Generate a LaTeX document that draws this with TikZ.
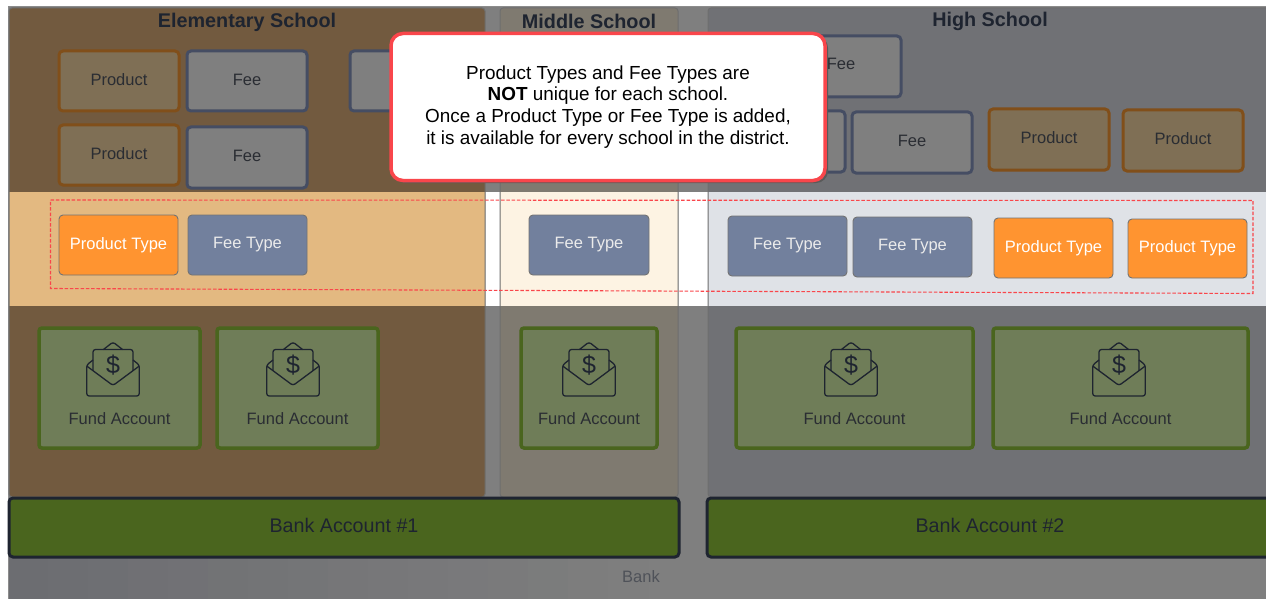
\documentclass[tikz,border=0pt]{standalone}
\usepackage{fontspec}
\setmainfont{Liberation Sans}
\usetikzlibrary{calc}
\definecolor{dimgray}{HTML}{7F7F7F}
\definecolor{elemdim}{HTML}{725A3F}
\definecolor{elemband}{HTML}{E3B981}
\definecolor{middim}{HTML}{7F7A70}
\definecolor{midband}{HTML}{FDF3E3}
\definecolor{highdim}{HTML}{707175}
\definecolor{highband}{HTML}{DFE2E7}
\definecolor{edgegray}{HTML}{6E6E6E}
\definecolor{inkdark}{HTML}{1E2430}
\definecolor{inkdim}{HTML}{2A2D33}
\definecolor{prodfill}{HTML}{7F6F55}
\definecolor{prodedge}{HTML}{814F1A}
\definecolor{feefill}{HTML}{7F7F7F}
\definecolor{feeedge}{HTML}{454D63}
\definecolor{fundfill}{HTML}{6F7D58}
\definecolor{greenedge}{HTML}{4A651E}
\definecolor{ptype}{HTML}{FF9430}
\definecolor{ftype}{HTML}{72809D}
\definecolor{redline}{HTML}{F9464B}
\definecolor{banktext}{HTML}{4F5259}
\definecolor{bankleft}{HTML}{6C6D71}
\definecolor{softshadow}{HTML}{5A5A5A}
\tikzset{
  x=1pt,y=-1pt,
  basebox/.style={rectangle,rounded corners=4pt,inner sep=0pt,outer sep=0pt,font=\fontsize{16.5}{19}\selectfont},
  productbox/.style={basebox,draw=prodedge,fill=prodfill,line width=3pt,text=inkdim},
  feebox/.style={basebox,draw=feeedge,fill=feefill,line width=3pt,text=inkdim},
  ptypebox/.style={basebox,draw=black!55,fill=ptype,line width=.9pt,text=white},
  ftypebox/.style={basebox,draw=black!55,fill=ftype,line width=.9pt,text=white!92!black},
  fundbox/.style={basebox,draw=greenedge,fill=fundfill,line width=3.5pt,rounded corners=3pt},
  bankbox/.style={basebox,draw=inkdark,fill=greenedge,line width=3pt,text=inkdark,font=\fontsize{19.7}{22}\selectfont},
  heading/.style={inner sep=0pt,outer sep=0pt,text=inkdark,font=\bfseries\fontsize{19.8}{24}\selectfont},
  fundlabel/.style={inner sep=0pt,outer sep=0pt,text=inkdim,font=\fontsize{16.5}{19}\selectfont},
  iconline/.style={draw=inkdark,line width=1.3pt,rounded corners=2.5pt,line join=round},
  panelframe/.style={draw=edgegray,line width=1pt,rounded corners=3pt},
}
% style, name, x1, y1, x2, y2, text, text shift
\newcommand{\placebox}[8]{%
  \pgfmathsetmacro{\bw}{#5-#3}\pgfmathsetmacro{\bh}{#6-#4}%
  \pgfmathsetmacro{\bcx}{(#3+#5)/2}\pgfmathsetmacro{\bcy}{(#4+#6)/2}%
  \node[#1,minimum width=\bw pt,minimum height=\bh pt] (#2) at (\bcx,\bcy) {};%
  \node[inner sep=0pt,outer sep=0pt,#1,draw=none,fill=none] (#2text) at (\bcx,\bcy+#8) {#7};%
}
\newcommand{\fundacct}[6]{%
  \pgfmathsetmacro{\fw}{#4-#2}\pgfmathsetmacro{\fcx}{(#2+#4)/2}\pgfmathsetmacro{\fcy}{(#3+#5)/2}%
  \node[fundbox,minimum width=\fw pt,minimum height=120pt] (#1) at (\fcx,\fcy) {};%
  \node[fundlabel] (#1text) at (\fcx,418.5) {Fund Account};%
  \begin{scope}[shift={(#6,369)}]
    \draw[iconline] (-20,-9) -- (-26.3,-4) -- (-26.3,27) -- (26.3,27) -- (26.3,-4) -- (20,-9);
    \draw[iconline] (-26.3,-3) -- (0,16.5) -- (26.3,-3);
    \draw[iconline] (-20,1.5) -- (-20,-19.5) -- (20,-19.5) -- (20,1.5);
    \draw[iconline] (-9.5,-19.5) -- (0,-27) -- (9.5,-19.5);
    \node[inner sep=0pt,text=inkdark,font=\fontsize{25}{25}\selectfont] (#1sign) at (0,-4) {\$};
  \end{scope}
}
\begin{document}
\begin{tikzpicture}
\useasboundingbox (0,0) rectangle (1266,599);
\fill[white] (0,0) rectangle (1266,599);
\fill[dimgray] (8,7) rectangle (1266,599);
\fill[white] (8,192) rectangle (1266,306);
\foreach \st in {0,...,15}{
  \pgfmathsetmacro{\mixv}{100-\st*100/16}
  \fill[bankleft!\mixv!dimgray] (8+\st*40,557) rectangle (49+\st*40,599);
}
\draw[black!45,line width=1pt] (8,599) -- (8,7) -- (1266,7);
% panels
\fill[elemdim,rounded corners=3pt] (9,8) rectangle (485,497);
\fill[middim,rounded corners=3pt] (500,8) rectangle (678,497);
\fill[highdim,rounded corners=3pt] (708,8) rectangle (1270,497);
\fill[elemband] (9,192) rectangle (485,306);
\fill[midband] (500,192) rectangle (678,306);
\fill[highband] (708,192) rectangle (1266,306);
\draw[panelframe] (9,8) rectangle (485,497);
\draw[panelframe] (500,8) rectangle (678,497);
\draw[panelframe] (708,8) rectangle (1270,497);
\node[heading] (elemtitle) at (247,22) {Elementary School};
\node[heading] (midtitle) at (589,21) {Middle School};
\node[heading] (hightitle) at (990,21.5) {High School};
% products and fees
\placebox{productbox}{pa}{59}{51}{179}{111}{Product}{-1.5}
\placebox{feebox}{fa}{187}{51}{307}{111}{Fee}{-1.5}
\placebox{feebox}{fb}{350}{51}{470}{111}{}{0}
\placebox{productbox}{pb}{59}{125}{179}{185}{Product}{-1.5}
\placebox{feebox}{fc}{187}{127}{307}{188}{Fee}{-1.5}
\placebox{feebox}{fd}{781}{36}{901}{97}{Fee}{-2.5}
\placebox{feebox}{fe}{725}{111}{845}{172}{}{0}
\placebox{feebox}{ff}{852}{112}{972}{173}{Fee}{-1.5}
\placebox{productbox}{pc}{989}{109}{1109}{170}{Product}{-1.5}
\placebox{productbox}{pd}{1123}{110}{1243}{171}{Product}{-1.5}
% dashed highlight
\coordinate (da) at (50.5,200);
\coordinate (db) at (1253,200.5);
\coordinate (dc) at (1253,293.5);
\coordinate (dd) at (50.5,288.5);
\draw[redline,line width=1.1pt,dash pattern=on 3.5pt off 1.8pt] (da) -- (db) -- (dc) -- (dd) -- cycle;
% types
\placebox{ptypebox}{ta}{59}{215}{178}{275}{Product Type}{0}
\placebox{ftypebox}{tb}{188}{215}{307}{275}{Fee Type}{0}
\placebox{ftypebox}{tc}{529}{215}{649}{275}{Fee Type}{0}
\placebox{ftypebox}{td}{728}{216}{847}{276}{Fee Type}{0}
\placebox{ftypebox}{te}{853}{217}{972}{277}{Fee Type}{0}
\placebox{ptypebox}{tf}{994}{218}{1113}{278}{Product Type}{0}
\placebox{ptypebox}{tg}{1128}{219}{1247}{278}{Product Type}{0}
% funds
\fundacct{fua}{39}{328}{200}{448}{113}
\fundacct{fub}{217}{328}{378}{448}{293}
\fundacct{fuc}{521}{328}{657}{448}{589}
\fundacct{fud}{736}{328}{973}{448}{851}
\fundacct{fue}{993}{328}{1248}{448}{1119}
% banks
\placebox{bankbox}{ba}{9}{498}{679}{557}{Bank Account \#1}{-2}
\placebox{bankbox}{bb}{707}{498}{1272}{557}{}{0}
\node[inner sep=0pt,text=inkdark,font=\fontsize{19.7}{22}\selectfont] (bbtext) at (990,525.5) {Bank Account \#2};
\node[inner sep=0pt,text=banktext,font=\fontsize{16.5}{19}\selectfont] (banklabel) at (641,577) {Bank};
% callout
\fill[softshadow,rounded corners=12pt] (393,36) rectangle (828,183);
\node[rectangle,rounded corners=12pt,draw=redline,fill=white,line width=3.5pt,minimum width=434pt,minimum height=147pt,
  inner sep=0pt,outer sep=0pt,
  align=center,font=\fontsize{18.9}{21.8}\selectfont] (note) at (608,107)
  {Product Types and Fee Types are\\\textbf{NOT} unique for each school.\\Once a Product Type or Fee Type is added,\\it is available for every school in the district.};
\end{tikzpicture}
\end{document}
